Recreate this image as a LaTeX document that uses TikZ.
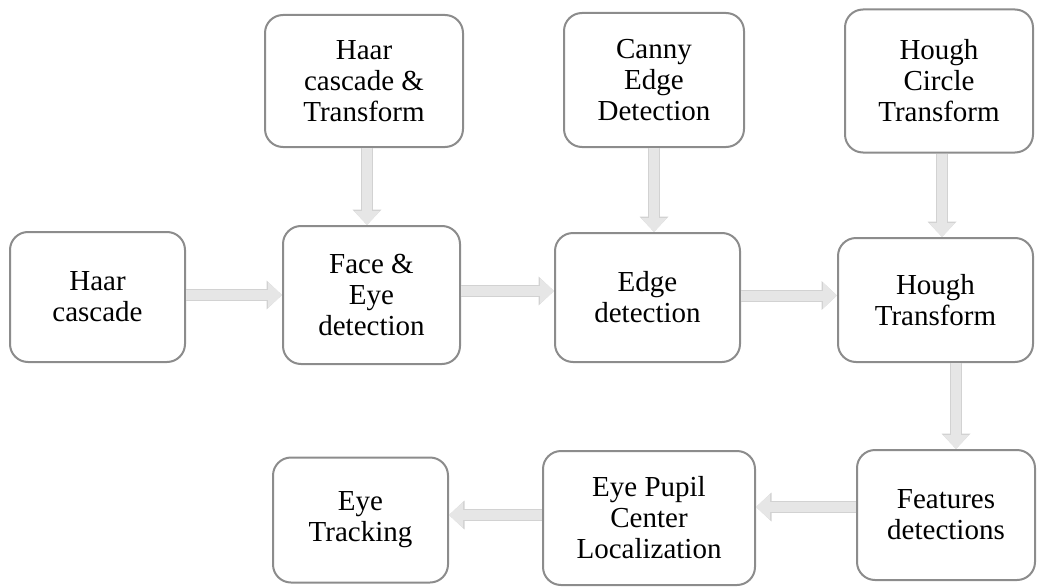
\documentclass[tikz,border=0pt]{standalone}
\usepackage{fontspec}
\setmainfont{Liberation Serif}
\usetikzlibrary{arrows.meta}
\definecolor{boxline}{HTML}{8C8C8C}
\definecolor{arrowfill}{HTML}{E6E6E6}
\definecolor{arrowedge}{HTML}{D2D2D2}
\tikzset{
  stepbox/.style={draw=boxline, line width=2pt, rounded corners=18pt, fill=white,
    align=center, inner sep=0pt, font=\fontsize{29}{31}\selectfont},
  fat/.style={draw=arrowfill, line width=10pt, -{Triangle[width=25pt,length=14pt]},
    preaction={draw=arrowedge, line width=12pt, -{Triangle[width=28pt,length=15.5pt]}}}
}
\begin{document}
\begin{tikzpicture}[x=1pt,y=-1pt]
\useasboundingbox (0,0) rectangle (1038,586);
\node[stepbox, minimum width=175pt, minimum height=130pt] (haar) at (97.5,297) {Haar\\cascade};
\node[stepbox, minimum width=198pt, minimum height=132pt] (haarT) at (364,81) {Haar\\cascade \&\\Transform};
\node[stepbox, minimum width=177pt, minimum height=138pt] (face) at (371.5,295) {Face \&\\Eye\\detection};
\node[stepbox, minimum width=180pt, minimum height=134pt] (canny) at (654,80) {Canny\\Edge\\Detection};
\node[stepbox, minimum width=185pt, minimum height=129pt] (edge) at (647.5,297.5) {Edge\\detection};
\node[stepbox, minimum width=188pt, minimum height=143pt] (hcircle) at (939,81) {Hough\\Circle\\Transform};
\node[stepbox, minimum width=195pt, minimum height=124pt] (hough) at (935.5,300) {Hough\\Transform};
\node[stepbox, minimum width=178pt, minimum height=130pt] (feat) at (946,515) {Features\\detections};
\node[stepbox, minimum width=212pt, minimum height=134pt] (pupil) at (649,518) {Eye Pupil\\Center\\Localization};
\node[stepbox, minimum width=175pt, minimum height=125pt] (track) at (360.5,520) {Eye\\Tracking};

\draw[fat] ([xshift=3pt]haarT.south) -- ([xshift=3pt]haarT.south |- face.north);
\draw[fat] (canny.south) -- (canny.south |- edge.north);
\draw[fat] ([xshift=3pt]hcircle.south) -- ([xshift=3pt]hcircle.south |- hough.north);
\draw[fat] ([xshift=10pt]feat.north |- hough.south) -- ([xshift=10pt]feat.north);
\draw[fat] ([yshift=2pt]haar.east) -- ([yshift=2pt]haar.east -| face.west);
\draw[fat] ([yshift=4pt]face.east) -- ([yshift=4pt]face.east -| edge.west);
\draw[fat] ([yshift=2pt]edge.east) -- ([yshift=2pt]edge.east -| hough.west);
\draw[fat] ([yshift=8pt]feat.west) -- ([yshift=8pt]feat.west -| pupil.east);
\draw[fat] ([yshift=3pt]pupil.west) -- ([yshift=3pt]pupil.west -| track.east);
\end{tikzpicture}
\end{document}
